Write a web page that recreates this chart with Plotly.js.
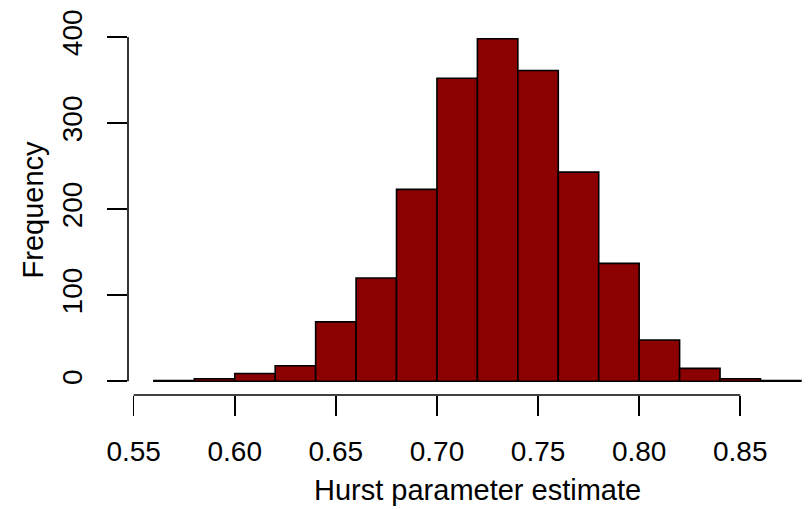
<!DOCTYPE html>
<html>
<head>
<meta charset="utf-8">
<script src="https://cdn.plot.ly/plotly-3.0.1.min.js"></script>
<style>html,body{margin:0;padding:0;background:#fff;}#chart{width:810px;height:509px;}</style>
</head>
<body>
<div id="chart"></div>
<script>
const binStarts = [0.56,0.58,0.60,0.62,0.64,0.66,0.68,0.70,0.72,0.74,0.76,0.78,0.80,0.82,0.84,0.86];
const binWidth = 0.02;
const counts = [1,3,9,18,69,120,223,352,398,361,243,137,48,15,3,1];
const xTicks = [0.55,0.60,0.65,0.70,0.75,0.80,0.85];
const yTicks = [0,100,200,300,400];
const xTitle = "Hurst parameter estimate";
const yTitle = "Frequency";

const font = "Liberation Sans, Arial, Helvetica, sans-serif";
const centers = binStarts.map(b => b + binWidth/2);

const trace = {
  type: 'bar',
  x: centers,
  y: counts,
  width: binStarts.map(() => binWidth),
  marker: {color: '#8B0000', line: {color: '#000000', width: 1.6}},
  hoverinfo: 'skip'
};

const layout = {
  width: 810, height: 509,
  margin: {l: 128, r: 0, t: 25, b: 114},
  paper_bgcolor: '#ffffff', plot_bgcolor: '#ffffff',
  showlegend: false,
  bargap: 0,
  font: {family: font, size: 28, color: '#000'},
  xaxis: {
    range: [0.5472, 0.5472 + 682/2022],
    tickvals: xTicks,
    ticktext: xTicks.map(v => v.toFixed(2)),
    ticks: 'outside', ticklen: 20, tickwidth: 1.6, tickcolor: '#000',
    ticklabelstandoff: 11,
    showgrid: false, zeroline: false, showline: false,
    tickfont: {family: font, size: 28, color: '#000'},
    fixedrange: true
  },
  yaxis: {
    range: [-15.92, 413.92],
    tickvals: yTicks,
    ticktext: yTicks.map(String),
    ticks: 'outside', ticklen: 20, tickwidth: 1.6, tickcolor: '#000',
    tickangle: -90,
    ticklabelstandoff: 14,
    showgrid: false, zeroline: false, showline: false,
    tickfont: {family: font, size: 28, color: '#000'},
    title: {text: yTitle, font: {family: font, size: 29, color: '#000'}, standoff: 4},
    fixedrange: true
  },
  shapes: [
    {type: 'line', xref: 'x', yref: 'paper', x0: xTicks[0], x1: xTicks[xTicks.length-1], y0: 0, y1: 0,
     line: {color: '#000', width: 1.6}},
    {type: 'line', xref: 'paper', yref: 'y', x0: 0, x1: 0, y0: yTicks[0], y1: yTicks[yTicks.length-1],
     line: {color: '#000', width: 1.6}}
  ],
  annotations: [
    {text: xTitle, xref: 'x', yref: 'paper', x: 0.72, y: 0, yanchor: 'top', yshift: -77,
     showarrow: false, font: {family: font, size: 29, color: '#000'}}
  ]
};

Plotly.newPlot('chart', [trace], layout, {displayModeBar: false, staticPlot: true});
</script>
</body>
</html>
